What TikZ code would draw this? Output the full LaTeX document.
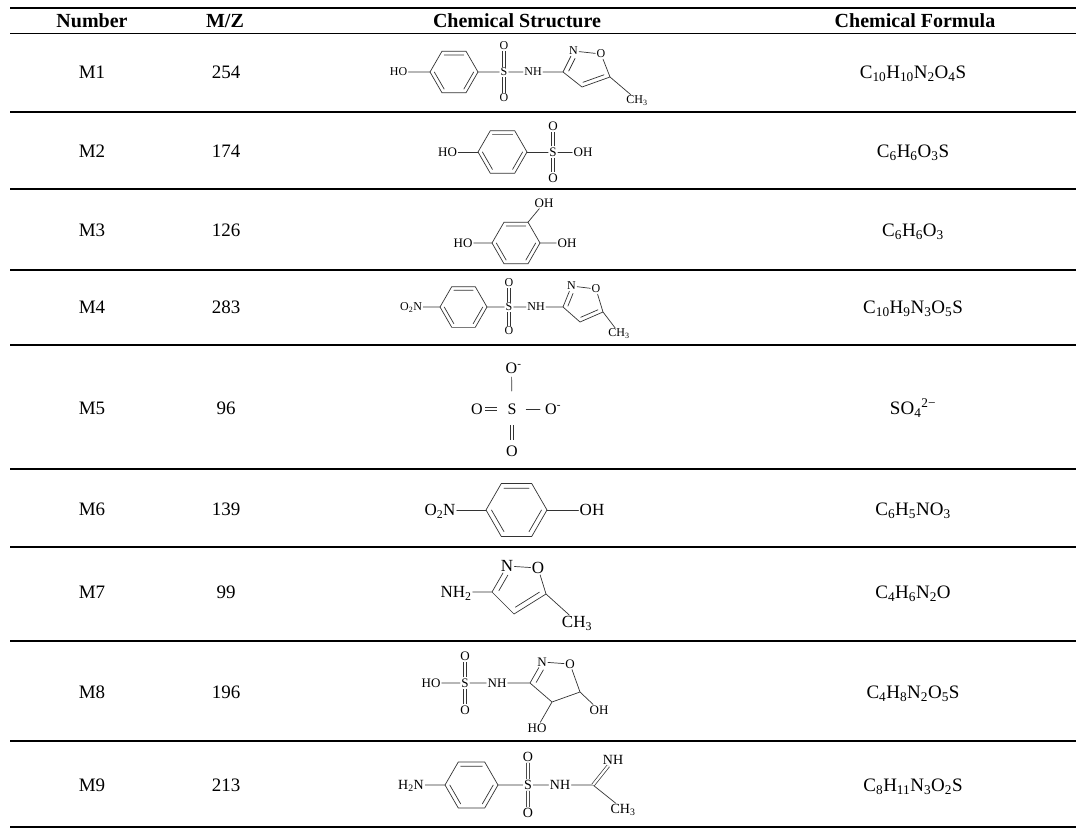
\documentclass[tikz,border=0pt]{standalone}
\usepackage{fontspec}
\setmainfont{Liberation Serif}
\usetikzlibrary{calc}
\newcommand{\fsz}[1]{\fontsize{#1}{#1}\selectfont}
% benzene ring: name, cx, cy, r  (flat top, double bonds top / lower-left / lower-right)
\newcommand{\benz}[4]{%
  \coordinate (#1c) at (#2,#3);
  \path (#1c) ++(#4,0) coordinate (#1R);
  \path (#1c) ++({0.5*#4},{0.866*#4}) coordinate (#1LR);
  \path (#1c) ++({-0.5*#4},{0.866*#4}) coordinate (#1LL);
  \path (#1c) ++({-#4},0) coordinate (#1L);
  \path (#1c) ++({-0.5*#4},{-0.866*#4}) coordinate (#1UL);
  \path (#1c) ++({0.5*#4},{-0.866*#4}) coordinate (#1UR);
  \draw[bond] (#1R)--(#1LR)--(#1LL)--(#1L)--(#1UL)--(#1UR)--cycle;
  \draw[bond] ($(#1c)!0.82!(#1UL)$)--($(#1c)!0.82!(#1UR)$)
              ($(#1c)!0.82!(#1R)$)--($(#1c)!0.82!(#1LR)$)
              ($(#1c)!0.82!(#1LL)$)--($(#1c)!0.82!(#1L)$);
}
\tikzset{
  bond/.style={line width=0.7pt, draw=black!80, line cap=round},
  dbl/.style={line width=0.7pt, draw=black!80, double=white, double distance=2.2pt},
  txt/.style={inner sep=0pt, text depth=0pt},
  hd/.style={txt, font=\fsz{20}\bfseries, text height=13.2pt},
  cell/.style={txt, font=\fsz{19}, text height=12.5pt},
  atomlab/.style={inner sep=0pt, outer sep=1.3pt, text depth=0pt},
  a12/.style={atomlab, font=\fsz{12}, text height=7.9pt},
  a13/.style={atomlab, font=\fsz{13}, text height=8.6pt},
  a14/.style={atomlab, font=\fsz{14}, text height=9.2pt},
  a16/.style={atomlab, font=\fsz{16}, text height=10.6pt},
  a17/.style={atomlab, font=\fsz{17}, text height=11.2pt},
  rulethin/.style={line width=1.1pt},
}
\begin{document}
\begin{tikzpicture}[x=1pt,y=-1pt]
\useasboundingbox (0,0) rectangle (1084,835);
\fill[white] (0,0) rectangle (1084,835);
% ---------------- table rules
\draw[line width=1.6pt] (10,8) -- (1076,8);
\draw[line width=1pt] (10,33) -- (1076,33);
\foreach \yy in {112,189,270,345,469,547,641,741}
  \draw[rulethin] (10,\yy) -- (1076,\yy);
\draw[line width=2pt] (10,827) -- (1076,827);
% ---------------- header
\node[hd] (hNum) at (92,21) {Number};
\node[hd] (hMZ) at (225,21) {M/Z};
\node[hd] (hCS) at (517,21) {Chemical Structure};
\node[hd] (hCF) at (915,21) {Chemical Formula};
% ---------------- number / mz / formula
\node[cell] (n1) at (92,72) {M1};   \node[cell] (z1) at (226,72) {254};
\node[cell] (f1) at (913,72) {C\textsubscript{10}H\textsubscript{10}N\textsubscript{2}O\textsubscript{4}S};
\node[cell] (n2) at (92,151) {M2};  \node[cell] (z2) at (226,151) {174};
\node[cell] (f2) at (913,151) {C\textsubscript{6}H\textsubscript{6}O\textsubscript{3}S};
\node[cell] (n3) at (92,230) {M3};  \node[cell] (z3) at (226,230) {126};
\node[cell] (f3) at (913,230) {C\textsubscript{6}H\textsubscript{6}O\textsubscript{3}};
\node[cell] (n4) at (92,307) {M4};  \node[cell] (z4) at (226,307) {283};
\node[cell] (f4) at (913,307) {C\textsubscript{10}H\textsubscript{9}N\textsubscript{3}O\textsubscript{5}S};
\node[cell] (n5) at (92,408) {M5};  \node[cell] (z5) at (226,408) {96};
\node[cell] (f5) at (913,408) {SO\textsubscript{4}\textsuperscript{2−}};
\node[cell] (n6) at (92,509) {M6};  \node[cell] (z6) at (226,509) {139};
\node[cell] (f6) at (913,509) {C\textsubscript{6}H\textsubscript{5}NO\textsubscript{3}};
\node[cell] (n7) at (92,592) {M7};  \node[cell] (z7) at (226,592) {99};
\node[cell] (f7) at (913,592) {C\textsubscript{4}H\textsubscript{6}N\textsubscript{2}O};
\node[cell] (n8) at (92,692) {M8};  \node[cell] (z8) at (226,692) {196};
\node[cell] (f8) at (913,692) {C\textsubscript{4}H\textsubscript{8}N\textsubscript{2}O\textsubscript{5}S};
\node[cell] (n9) at (92,785) {M9};  \node[cell] (z9) at (226,785) {213};
\node[cell] (f9) at (913,785) {C\textsubscript{8}H\textsubscript{11}N\textsubscript{3}O\textsubscript{2}S};

% ================= M1
\node[a12] (m1HO) at (398.5,72) {HO};
\benz{m1r}{454}{72}{24}
\node[a12] (m1S) at (504,72) {S};
\node[a12] (m1Ot) at (504,46) {O};
\node[a12] (m1Ob) at (504,98) {O};
\node[a12] (m1NH) at (533,72) {NH};
\coordinate (m1c3) at (563,72);
\node[a12] (m1N) at (573.5,51) {N};
\node[a12] (m1O) at (601,54) {O};
\coordinate (m1c5) at (610,77);
\coordinate (m1c4) at (582,87);
\coordinate (m1rc) at (585.9,68.2);
\node[a12] (m1Me) at (637,100) {CH\textsubscript{3}};
\draw[bond] (m1HO) -- (m1rL) (m1rR) -- (m1S) -- (m1NH) -- (m1c3) -- (m1N) -- (m1O) -- (m1c5) -- (m1c4) -- (m1c3) (m1c5) -- (m1Me);
\draw[dbl] (m1S) -- (m1Ot) (m1S) -- (m1Ob);
\draw[bond] ($(m1rc)!0.75!(m1c3)$) -- ($(m1rc)!0.75!($(m1c3)!0.8!(m1N.center)$)$)
            ($(m1rc)!0.75!(m1c5)$) -- ($(m1rc)!0.75!(m1c4)$);

% ================= M2
\node[a13] (m2HO) at (447.5,152) {HO};
\benz{m2r}{502.5}{152}{24.5}
\node[a13] (m2S) at (553,152) {S};
\node[a13] (m2Ot) at (553,126) {O};
\node[a13] (m2Ob) at (553,178) {O};
\node[a13] (m2OH) at (583,152) {OH};
\draw[bond] (m2HO) -- (m2rL) (m2rR) -- (m2S) -- (m2OH);
\draw[dbl] (m2S) -- (m2Ot) (m2S) -- (m2Ob);

% ================= M3
\benz{m3r}{516}{243}{24}
\node[a13] (m3HO) at (463,243) {HO};
\node[a13] (m3OHr) at (567,243) {OH};
\node[a13] (m3OHt) at (544,203) {OH};
\draw[bond] (m3HO) -- (m3rL) (m3rR) -- (m3OHr) (m3rUR) -- (m3OHt);

% ================= M4
\node[a12] (m4NO) at (411,307) {O\textsubscript{2}N};
\benz{m4r}{463.5}{307}{23.5}
\node[a12] (m4S) at (509,307) {S};
\node[a12] (m4Ot) at (509,283) {O};
\node[a12] (m4Ob) at (509,331) {O};
\node[a12] (m4NH) at (536,307) {NH};
\coordinate (m4c3) at (563,307);
\node[a12] (m4N) at (571.5,286) {N};
\node[a12] (m4O) at (596,289) {O};
\coordinate (m4c5) at (603,312);
\coordinate (m4c4) at (580,322);
\coordinate (m4rc) at (582.7,303.2);
\node[a12] (m4Me) at (619,333) {CH\textsubscript{3}};
\draw[bond] (m4NO) -- (m4rL) (m4rR) -- (m4S) -- (m4NH) -- (m4c3) -- (m4N) -- (m4O) -- (m4c5) -- (m4c4) -- (m4c3) (m4c5) -- (m4Me);
\draw[dbl] (m4S) -- (m4Ot) (m4S) -- (m4Ob);
\draw[bond] ($(m4rc)!0.75!(m4c3)$) -- ($(m4rc)!0.75!($(m4c3)!0.8!(m4N.center)$)$)
            ($(m4rc)!0.75!(m4c5)$) -- ($(m4rc)!0.75!(m4c4)$);

% ================= M5
\node[a16] (m5S) at (512,409) {S};
\node[a16] (m5Ot) at (511.5,368) {O\rlap{\textsuperscript{-}}};
\node[a16] (m5Ol) at (477,409) {O};
\node[a16] (m5Or) at (551,409) {O\rlap{\textsuperscript{-}}};
\node[a16] (m5Ob) at (512,451) {O};
\draw[bond, shorten <=2.4pt, shorten >=11.4pt] (m5Ot) -- (m5S);
\draw[dbl, double distance=2.6pt, shorten <=1pt, shorten >=9pt] (m5Ol) -- (m5S);
\draw[bond, shorten <=8.5pt, shorten >=4pt] (m5S) -- (m5Or);
\draw[dbl, double distance=2.6pt, shorten <=9.4pt, shorten >=4.4pt] (m5S) -- (m5Ob);

% ================= M6
\node[a17] (m6NO) at (440,510) {O\textsubscript{2}N};
\benz{m6r}{516.5}{510}{30.5}
\node[a17] (m6OH) at (592,510) {OH};
\draw[bond] (m6NO) -- (m6rL) (m6rR) -- (m6OH);

% ================= M7
\node[a17] (m7NH) at (456,592) {NH\textsubscript{2}};
\coordinate (m7c3) at (492,592);
\node[a17] (m7N) at (507,566) {N};
\node[a17] (m7O) at (538,568) {O};
\coordinate (m7c5) at (546,594);
\coordinate (m7c4) at (514,614);
\coordinate (m7rc) at (519.4,586.8);
\node[a17] (m7Me) at (577,622) {CH\textsubscript{3}};
\draw[bond] (m7NH) -- (m7c3) -- (m7N) -- (m7O) -- (m7c5) -- (m7c4) -- (m7c3) (m7c5) -- (m7Me);
\draw[bond] ($(m7rc)!0.75!(m7c3)$) -- ($(m7rc)!0.75!($(m7c3)!0.8!(m7N.center)$)$)
            ($(m7rc)!0.75!(m7c5)$) -- ($(m7rc)!0.75!(m7c4)$);

% ================= M8
\node[a13] (m8HO) at (431,683) {HO};
\node[a13] (m8S) at (465,683) {S};
\node[a13] (m8Ot) at (465,656) {O};
\node[a13] (m8Ob) at (465,710) {O};
\node[a13] (m8NH) at (497,683) {NH};
\coordinate (m8c3) at (530,683);
\node[a13] (m8N) at (542,662) {N};
\node[a13] (m8O) at (570,664) {O};
\coordinate (m8c5) at (580,692);
\coordinate (m8c4) at (552,702);
\coordinate (m8rc) at (554.8,680.6);
\node[a13] (m8OH) at (599,710) {OH};
\node[a13] (m8HOb) at (537,728) {HO};
\draw[bond] (m8HO) -- (m8S) -- (m8NH) -- (m8c3) -- (m8N) -- (m8O) -- (m8c5) -- (m8c4) -- (m8c3) (m8c5) -- (m8OH) (m8c4) -- (m8HOb);
\draw[dbl] (m8S) -- (m8Ot) (m8S) -- (m8Ob);
\draw[bond] ($(m8rc)!0.75!(m8c3)$) -- ($(m8rc)!0.75!($(m8c3)!0.8!(m8N.center)$)$);

% ================= M9
\node[a14] (m9HN) at (411,785) {H\textsubscript{2}N};
\benz{m9r}{471.5}{785}{26.5}
\node[a14] (m9S) at (528,785) {S};
\node[a14] (m9Ot) at (528,757) {O};
\node[a14] (m9Ob) at (528,813) {O};
\node[a14] (m9NH) at (560,785) {NH};
\coordinate (m9c) at (593,785);
\node[a14] (m9NHb) at (613,760) {NH};
\node[a14] (m9Me) at (623,809) {CH\textsubscript{3}};
\draw[bond] (m9HN) -- (m9rL) (m9rR) -- (m9S) -- (m9NH) -- (m9c) -- (m9Me);
\draw[dbl] (m9S) -- (m9Ot) (m9S) -- (m9Ob) (m9c) -- (m9NHb);
\end{tikzpicture}
\end{document}
